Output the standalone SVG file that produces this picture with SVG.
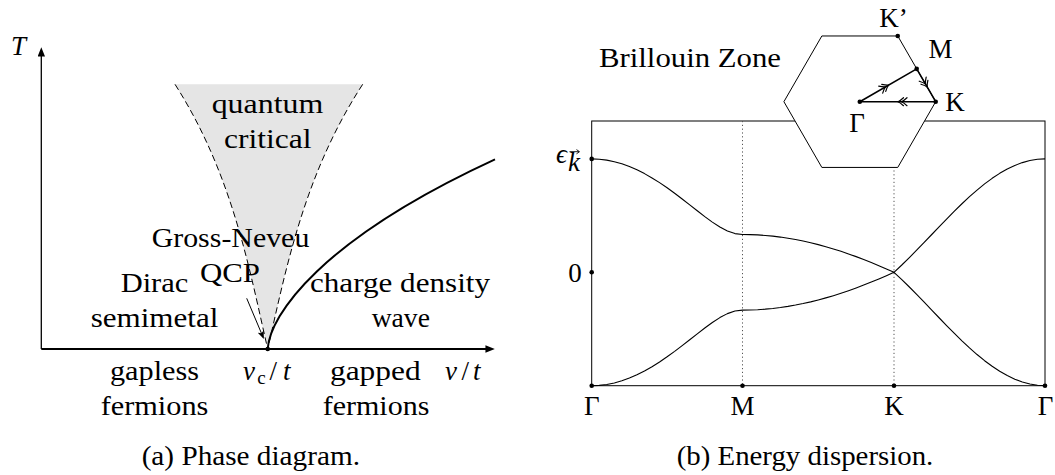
<svg xmlns="http://www.w3.org/2000/svg" xmlns:xlink="http://www.w3.org/1999/xlink" width="1055" height="475" viewBox="0 0 1055 475">
<style>
.t{font-size:27px;fill:#000}
.it{font-style:italic}
.c{text-anchor:middle}
.ln{fill:none;stroke:#000;stroke-linecap:butt}
.dot{fill:#000}
.dotted{fill:none;stroke:#555;stroke-width:1;stroke-dasharray:1.2 2.6}
.band{fill:none;stroke:#000;stroke-width:1.1;stroke-linejoin:round}
.chev{fill:none;stroke:#000;stroke-width:1.2;stroke-linecap:round}
</style>
<defs>
<marker id="arr" markerUnits="userSpaceOnUse" viewBox="0 0 10 8" refX="7" refY="4" markerWidth="10" markerHeight="7.5" orient="auto">
<path d="M0,0 L10,4 L0,8 Z" fill="#000"/>
</marker>
<marker id="arrs" markerUnits="userSpaceOnUse" viewBox="0 0 10 8" refX="8" refY="4" markerWidth="9" markerHeight="6.5" orient="auto">
<path d="M0,0 L10,4 L0,8 L2.5,4 Z" fill="#000"/>
</marker>
<path id="chev" d="M-5.5,-4 Q-2,-0.8 0,0 Q-2,0.8 -5.5,4 M-9,-4 Q-5.5,-0.8 -3.5,0 Q-5.5,0.8 -9,4"/>
</defs>

<g id="phase-diagram" font-family="'Liberation Serif', 'Times New Roman', Times, 'DejaVu Serif', serif">
  <g id="qc-region">
    <path d="M175,84.3 L362.7,84.3 C304,174.3 286.1,269 267.7,349 C249.3,269 232.6,174.3 175,84.3 Z" fill="#e5e5e5" stroke="none"/>
    <path d="M175,84.3 C232.6,174.3 249.3,269 267.7,349" class="ln" stroke-width="1" stroke-dasharray="6.5 3.5"/>
    <path d="M362.7,84.3 C304,174.3 286.1,269 267.7,349" class="ln" stroke-width="1" stroke-dasharray="6.5 3.5"/>
  </g>
  <g id="axes">
    <line x1="41.3" y1="349" x2="41.3" y2="50" class="ln" stroke-width="1.3" marker-end="url(#arr)"/>
    <line x1="41.3" y1="349" x2="492" y2="349" class="ln" stroke-width="2" marker-end="url(#arr)"/>
  </g>
  <g id="connectors">
    <path d="M267.7,349 C270,315 320,240 495,159.3" class="ln" stroke-width="2"/>
    <line x1="246.7" y1="298.3" x2="263.2" y2="337.4" class="ln" stroke-width="1" marker-end="url(#arrs)"/>
  </g>
  <circle id="qcp-point" cx="267.7" cy="349" r="2.3" class="dot"/>
  <g id="labels-a">
    <text class="t it" x="11" y="55">T</text>
    <text class="t c" x="267.5" y="112.5" textLength="111.7" lengthAdjust="spacingAndGlyphs">quantum</text>
    <text class="t c" x="267.8" y="148.3" textLength="87.7" lengthAdjust="spacingAndGlyphs">critical</text>
    <text class="t c" x="230.5" y="246.7" textLength="157.7" lengthAdjust="spacingAndGlyphs">Gross-Neveu</text>
    <text class="t c" x="230" y="281.7" textLength="60" lengthAdjust="spacingAndGlyphs">QCP</text>
    <text class="t c" x="154.5" y="292.3" textLength="67.7" lengthAdjust="spacingAndGlyphs">Dirac</text>
    <text class="t c" x="154.5" y="326.7" textLength="127.7" lengthAdjust="spacingAndGlyphs">semimetal</text>
    <text class="t c" x="400" y="292.3" textLength="180" lengthAdjust="spacingAndGlyphs">charge density</text>
    <text class="t c" x="400.8" y="326.7" textLength="58.3" lengthAdjust="spacingAndGlyphs">wave</text>
    <text class="t c" x="154.5" y="380" textLength="89" lengthAdjust="spacingAndGlyphs">gapless</text>
    <text class="t c" x="154.5" y="415" textLength="107.7" lengthAdjust="spacingAndGlyphs">fermions</text>
    <text class="t" y="380"><tspan x="243" class="it">v</tspan><tspan x="257.3" y="384" font-size="19">c</tspan><tspan x="269.5" y="380">/</tspan><tspan x="283" class="it">t</tspan></text>
    <text class="t c" x="375.3" y="380" textLength="90.7" lengthAdjust="spacingAndGlyphs">gapped</text>
    <text class="t c" x="376" y="415" textLength="106.7" lengthAdjust="spacingAndGlyphs">fermions</text>
    <text class="t" y="380"><tspan x="445" class="it">v</tspan><tspan x="461.5">/</tspan><tspan x="473" class="it">t</tspan></text>
    <text class="t c" x="250.8" y="465" textLength="218.3" lengthAdjust="spacingAndGlyphs">(a) Phase diagram.</text>
  </g>
</g>

<g id="dispersion" font-family="'Liberation Serif', 'Times New Roman', Times, 'DejaVu Serif', serif">
  <rect id="plot-box" x="591.7" y="121" width="453.3" height="264.7" fill="none" stroke="#000" stroke-width="1"/>
  <g id="guides">
    <line x1="742.5" y1="121" x2="742.5" y2="385.7" class="dotted"/>
    <line x1="894" y1="121" x2="894" y2="385.7" class="dotted"/>
  </g>
  <g id="bands">
    <polyline class="band" points="591.7,158.90 599.24,159.21 606.78,160.14 614.32,161.68 621.86,163.82 629.4,166.54 636.94,169.81 644.48,173.61 652.02,177.91 659.56,182.64 667.1,187.78 674.64,193.24 682.18,198.96 689.72,204.85 697.26,210.78 704.8,216.60 712.34,222.10 719.88,227.00 727.42,230.97 734.96,233.58 742.5,234.50 750.08,234.60 757.65,234.91 765.23,235.43 772.8,236.15 780.38,237.08 787.95,238.20 795.53,239.52 803.1,241.04 810.68,242.74 818.25,244.63 825.83,246.70 833.4,248.94 840.98,251.35 848.55,253.92 856.13,256.64 863.7,259.51 871.28,262.52 878.85,265.66 886.43,268.93 894,272.30 901.55,279.35 909.1,286.74 916.65,294.38 924.2,302.20 931.75,310.10 939.3,318.00 946.85,325.82 954.4,333.46 961.95,340.85 969.5,347.90 977.05,354.54 984.6,360.69 992.15,366.28 999.7,371.26 1007.25,375.57 1014.8,379.16 1022.35,382.00 1029.9,384.05 1037.45,385.29 1045,385.70"/>
    <polyline class="band" points="591.7,385.70 599.24,385.39 606.78,384.46 614.32,382.92 621.86,380.78 629.4,378.06 636.94,374.79 644.48,370.99 652.02,366.69 659.56,361.96 667.1,356.82 674.64,351.36 682.18,345.64 689.72,339.75 697.26,333.82 704.8,328.00 712.34,322.50 719.88,317.60 727.42,313.63 734.96,311.02 742.5,310.10 750.08,310.00 757.65,309.69 765.23,309.17 772.8,308.45 780.38,307.52 787.95,306.40 795.53,305.08 803.1,303.56 810.68,301.86 818.25,299.97 825.83,297.90 833.4,295.66 840.98,293.25 848.55,290.68 856.13,287.96 863.7,285.09 871.28,282.08 878.85,278.94 886.43,275.67 894,272.30 901.55,265.25 909.1,257.86 916.65,250.22 924.2,242.40 931.75,234.50 939.3,226.60 946.85,218.78 954.4,211.14 961.95,203.75 969.5,196.70 977.05,190.06 984.6,183.91 992.15,178.32 999.7,173.34 1007.25,169.03 1014.8,165.44 1022.35,162.60 1029.9,160.55 1037.45,159.31 1045,158.90"/>
  </g>
  <g id="axis-points">
    <circle cx="591.7" cy="158.9" r="2.3" class="dot"/>
    <circle cx="591.7" cy="272.3" r="2.3" class="dot"/>
    <circle cx="591.7" cy="385.7" r="2.3" class="dot"/>
    <circle cx="742.5" cy="385.7" r="2.3" class="dot"/>
    <circle cx="894" cy="385.7" r="2.3" class="dot"/>
    <circle cx="1045" cy="385.7" r="2.3" class="dot"/>
  </g>
  <g id="brillouin-zone">
    <polygon points="935.7,101.7 897.75,35.97 821.85,35.97 783.9,101.7 821.85,167.43 897.75,167.43" fill="#fff" stroke="#000" stroke-width="1"/>
    <g id="bz-path">
      <path d="M859.8,101.7 L916.7,68.85 L935.7,101.7 Z" class="ln" stroke-width="1.6" stroke-linejoin="round"/>
      <use xlink:href="#chev" class="chev" transform="translate(888.5,85.1) rotate(-30)"/>
      <use xlink:href="#chev" class="chev" transform="translate(927.2,87) rotate(60)"/>
      <use xlink:href="#chev" class="chev" transform="translate(898,101.7) rotate(180)"/>
    </g>
    <circle cx="859.8" cy="101.7" r="2.3" class="dot"/>
    <circle cx="916.7" cy="68.85" r="2.3" class="dot"/>
    <circle cx="935.7" cy="101.7" r="2.3" class="dot"/>
    <circle cx="897.75" cy="35.97" r="2.3" class="dot"/>
  </g>
  <g id="labels-b">
    <text class="t c" x="690" y="66.5" textLength="182" lengthAdjust="spacingAndGlyphs">Brillouin Zone</text>
    <text class="t c" x="893.5" y="26.5">K’</text>
    <text class="t c" x="940.5" y="58.3">M</text>
    <text class="t c" x="955" y="110.7">K</text>
    <text class="t c" x="857" y="131.7">Γ</text>
    <text class="t it" x="556" y="163">ϵ</text>
    <text class="t it" x="568" y="171" font-size="19">k</text>
    <path d="M569.5,151.7 L579,151.7 M576.5,149.6 L579.5,151.7 L576.5,153.8" fill="none" stroke="#000" stroke-width="0.9"/>
    <text class="t c" x="575" y="282">0</text>
    <text class="t c" x="591.7" y="415">Γ</text>
    <text class="t c" x="742.5" y="415">M</text>
    <text class="t c" x="894" y="415">K</text>
    <text class="t c" x="1045.5" y="415">Γ</text>
    <text class="t c" x="805" y="465" textLength="256.6" lengthAdjust="spacingAndGlyphs">(b) Energy dispersion.</text>
  </g>
</g>
</svg>
